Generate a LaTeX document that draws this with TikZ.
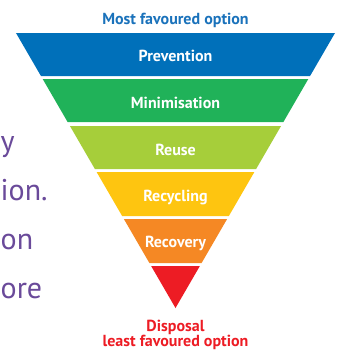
\documentclass[tikz,border=0pt]{standalone}
\usepackage{fontspec}
\setmainfont{PT Sans}
\definecolor{cblue}{HTML}{0070BA}
\definecolor{ctopblue}{HTML}{1A72BB}
\definecolor{cgreen}{HTML}{20B259}
\definecolor{clime}{HTML}{A6CE3A}
\definecolor{cyellow}{HTML}{FEC510}
\definecolor{corange}{HTML}{F58824}
\definecolor{cred}{HTML}{ED1C24}
\definecolor{cpurple}{HTML}{6A4A9A}
\tikzset{
  bandlabel/.style={anchor=base, text=white, font=\bfseries\fontsize{16}{18}\selectfont, inner sep=0pt},
  endlabel/.style={anchor=base, font=\bfseries\fontsize{16}{18}\selectfont, inner sep=0pt},
  sidetext/.style={anchor=base west, text=cpurple, font=\fontsize{30}{34}\selectfont, inner sep=0pt}
}
\begin{document}
\begin{tikzpicture}[x=1pt,y=-1pt]
\useasboundingbox (0,0) rectangle (346,351);
\fill[white] (0,0) rectangle (346,351);
% pyramid bands: half width = 0.58*(308-y)
\foreach \t/\b/\c in {33/76/cblue, 79/122/cgreen, 126/169/clime, 172/216/cyellow, 219/263/corange} {
  \fill[\c] ({175.5-0.58*(308-\t)},\t) -- ({175.5+0.58*(308-\t)},\t)
    -- ({175.5+0.58*(308-\b)},\b) -- ({175.5-0.58*(308-\b)},\b) -- cycle;
}
\fill[cred] ({175.5-0.58*42},266) -- ({175.5+0.58*42},266) -- (175.5,308) -- cycle;
% side text fragments
\node[sidetext] (s1) at (0.5,151) {y};
\node[sidetext] (s2) at (0.5,200) {ion.};
\node[sidetext] (s3) at (0.5,249) {on};
\node[sidetext] (s4) at (0.5,298) {ore};
\node[endlabel, text=ctopblue] (top) at (175.5,24.5) {Most favoured option};
\node[bandlabel] (l1) at (175.5,61) {Prevention};
\node[bandlabel] (l2) at (175.5,108) {Minimisation};
\node[bandlabel] (l3) at (175.5,155) {Reuse};
\node[bandlabel] (l4) at (175.5,201) {Recycling};
\node[bandlabel] (l5) at (175.5,247.5) {Recovery};
\node[endlabel, text=cred] (b1) at (175.5,331) {Disposal};
\node[endlabel, text=cred] (b2) at (175.5,346) {least favoured option};
\end{tikzpicture}
\end{document}
